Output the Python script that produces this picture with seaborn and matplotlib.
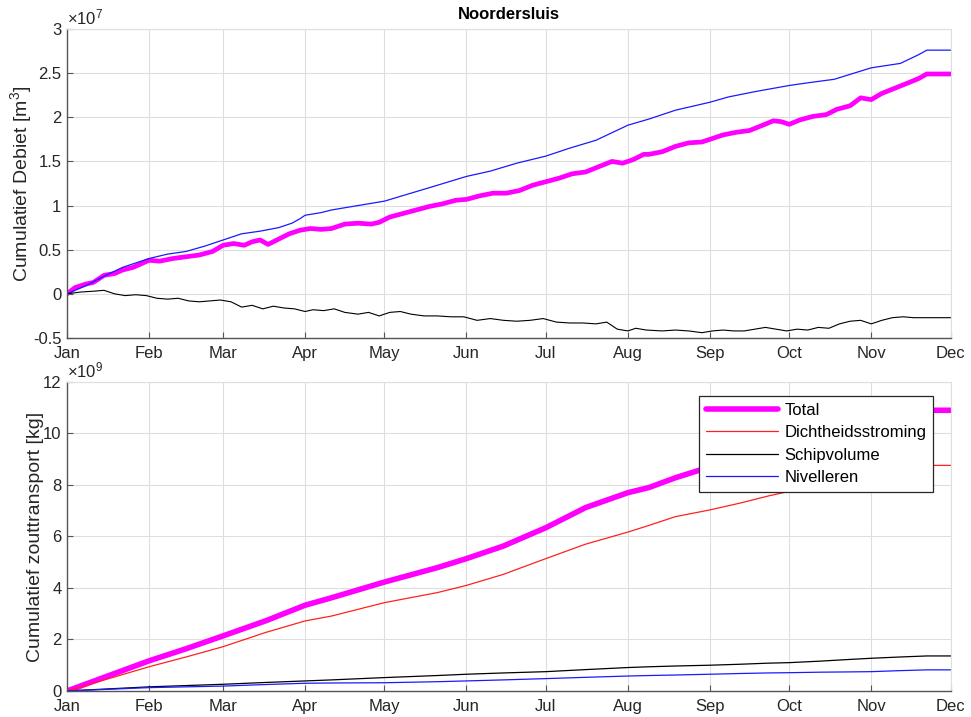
import numpy as np
import pandas as pd
import matplotlib
matplotlib.use("Agg")
import matplotlib.pyplot as plt
import seaborn as sns

# ---- cumulative discharge (units of 1e7 m3), day offsets from 1 Jan ----
deb_total_days = [0, 3, 7, 10, 14, 18, 21, 25, 28, 31, 35, 40, 45, 50, 55, 59, 63, 67, 70, 73,
                  76, 80, 84, 88, 92, 96, 100, 105, 110, 115, 118, 122, 127, 132, 137, 142, 147,
                  151, 156, 161, 166, 171, 176, 181, 186, 191, 196, 201, 206, 210, 214, 218, 220,
                  225, 230, 235, 240, 243, 248, 253, 258, 263, 267, 270, 273, 277, 282, 287, 291,
                  296, 300, 304, 308, 313, 318, 322, 325, 334]
deb_total = [0.00, 0.07, 0.11, 0.13, 0.21, 0.23, 0.27, 0.30, 0.34, 0.38, 0.37, 0.40, 0.42, 0.44,
             0.48, 0.55, 0.57, 0.55, 0.59, 0.61, 0.56, 0.62, 0.68, 0.72, 0.74, 0.73, 0.74, 0.79,
             0.80, 0.79, 0.81, 0.87, 0.91, 0.95, 0.99, 1.02, 1.06, 1.07, 1.11, 1.14, 1.14, 1.17,
             1.23, 1.27, 1.31, 1.36, 1.38, 1.44, 1.50, 1.48, 1.52, 1.58, 1.58, 1.61, 1.67, 1.71,
             1.72, 1.75, 1.80, 1.83, 1.85, 1.91, 1.96, 1.95, 1.92, 1.97, 2.01, 2.03, 2.09, 2.13,
             2.22, 2.20, 2.27, 2.33, 2.39, 2.44, 2.49, 2.49]

deb_niv_days = [0, 7, 14, 21, 28, 31, 38, 45, 52, 59, 66, 73, 80, 85, 88, 90, 96, 100, 110, 120,
                130, 140, 151, 160, 170, 181, 190, 200, 212, 220, 230, 243, 250, 260, 273, 280,
                290, 304, 315, 322, 325, 334]
deb_niv = [0.00, 0.09, 0.20, 0.30, 0.37, 0.40, 0.45, 0.48, 0.54, 0.61, 0.68, 0.71, 0.75, 0.80,
           0.85, 0.89, 0.92, 0.95, 1.00, 1.05, 1.14, 1.23, 1.33, 1.39, 1.48, 1.56, 1.65, 1.74,
           1.91, 1.98, 2.08, 2.17, 2.23, 2.29, 2.36, 2.39, 2.43, 2.56, 2.61, 2.71, 2.76, 2.76]

deb_schip_days = [0, 5, 10, 14, 18, 22, 26, 30, 34, 38, 42, 46, 50, 54, 58, 62, 66, 70, 74, 78,
                  82, 86, 90, 93, 97, 101, 105, 110, 114, 118, 122, 126, 130, 135, 140, 145, 150,
                  155, 160, 165, 170, 175, 180, 185, 190, 195, 200, 204, 208, 212, 215, 219, 225,
                  230, 235, 240, 244, 248, 252, 256, 260, 264, 268, 272, 276, 280, 284, 288, 292,
                  296, 300, 304, 308, 312, 316, 320, 325, 334]
deb_schip = [0.00, 0.02, 0.03, 0.04, 0.00, -0.02, -0.01, -0.02, -0.05, -0.06, -0.05, -0.08,
             -0.09, -0.08, -0.07, -0.09, -0.15, -0.13, -0.17, -0.14, -0.16, -0.17, -0.20, -0.18,
             -0.19, -0.17, -0.21, -0.23, -0.21, -0.25, -0.21, -0.20, -0.23, -0.25, -0.25, -0.26,
             -0.26, -0.30, -0.28, -0.30, -0.31, -0.30, -0.28, -0.32, -0.33, -0.33, -0.34, -0.32,
             -0.40, -0.42, -0.39, -0.41, -0.42, -0.41, -0.42, -0.44, -0.42, -0.41, -0.42, -0.42,
             -0.40, -0.38, -0.40, -0.42, -0.40, -0.41, -0.38, -0.39, -0.34, -0.31, -0.30, -0.34,
             -0.30, -0.27, -0.26, -0.27, -0.27, -0.27]

# ---- cumulative salt transport (units of 1e9 kg) ----
zout_days = [0, 31, 45, 59, 75, 90, 100, 120, 140, 151, 165, 181, 196, 212, 220, 230, 243, 255,
             265, 273, 285, 295, 304, 315, 325, 334]
zout_total = [0.00, 1.17, 1.64, 2.14, 2.72, 3.33, 3.62, 4.23, 4.79, 5.14, 5.63, 6.34, 7.12,
              7.70, 7.90, 8.28, 8.70, 9.12, 9.42, 9.56, 9.90, 10.15, 10.42, 10.70, 10.90, 10.90]
zout_dicht = [0.00, 0.94, 1.32, 1.72, 2.27, 2.72, 2.91, 3.43, 3.82, 4.10, 4.53, 5.14, 5.70,
              6.17, 6.43, 6.77, 7.03, 7.31, 7.57, 7.75, 8.00, 8.20, 8.40, 8.60, 8.76, 8.76]
zout_schip = [0.00, 0.16, 0.21, 0.26, 0.33, 0.39, 0.43, 0.52, 0.60, 0.65, 0.70, 0.75, 0.83,
              0.91, 0.94, 0.97, 1.00, 1.04, 1.08, 1.10, 1.16, 1.22, 1.27, 1.32, 1.36, 1.36]
zout_niv = [0.00, 0.13, 0.16, 0.19, 0.25, 0.30, 0.31, 0.32, 0.36, 0.39, 0.43, 0.48, 0.53,
            0.58, 0.60, 0.62, 0.65, 0.68, 0.70, 0.71, 0.73, 0.74, 0.75, 0.79, 0.82, 0.82]

month_labels = ["Jan", "Feb", "Mar", "Apr", "May", "Jun", "Jul", "Aug", "Sep", "Oct", "Nov", "Dec"]

start = pd.Timestamp("2019-01-01")


def as_dates(days):
    return start + pd.to_timedelta(days, unit="D")


sns.set_theme(style="whitegrid")
plt.rcParams["font.family"] = ["Liberation Sans", "DejaVu Sans"]
plt.rcParams["mathtext.fontset"] = "custom"
plt.rcParams["mathtext.rm"] = "Liberation Sans"
plt.rcParams["mathtext.it"] = "Liberation Sans:italic"

FS = 12
LABEL_FS = 14
DARK = "#262626"
AXIS = "#555555"
GRID = "#dedede"

fig = plt.figure(figsize=(9.71, 7.17), dpi=100)
ax1 = fig.add_axes([0.069, 0.5286, 0.910, 0.4310])
ax2 = fig.add_axes([0.069, 0.0363, 0.910, 0.4310])

MAG, RED, BLK, BLU = "#ff00ff", "#ff2020", "#000000", "#1a1aff"

# top panel: cumulative discharge
sns.lineplot(x=as_dates(deb_total_days), y=deb_total, ax=ax1, color=MAG, linewidth=3.4)
sns.lineplot(x=as_dates(deb_niv_days), y=deb_niv, ax=ax1, color=BLU, linewidth=0.9)
sns.lineplot(x=as_dates(deb_schip_days), y=deb_schip, ax=ax1, color=BLK, linewidth=0.8)

# bottom panel: cumulative salt transport
sns.lineplot(x=as_dates(zout_days), y=zout_total, ax=ax2, color=MAG, linewidth=4.0, label="Total")
sns.lineplot(x=as_dates(zout_days), y=zout_dicht, ax=ax2, color=RED, linewidth=0.9,
             label="Dichtheidsstroming")
sns.lineplot(x=as_dates(zout_days), y=zout_schip, ax=ax2, color=BLK, linewidth=0.9,
             label="Schipvolume")
sns.lineplot(x=as_dates(zout_days), y=zout_niv, ax=ax2, color=BLU, linewidth=0.9,
             label="Nivelleren")

month_ticks = pd.date_range("2019-01-01", "2019-12-01", freq="MS")
for ax in (ax1, ax2):
    ax.set_xlim(month_ticks[0], month_ticks[-1])
    ax.set_xticks(month_ticks)
    ax.set_xticklabels(month_labels)
    ax.set_xlabel("")
    ax.grid(True, color=GRID, linewidth=0.8)
    ax.set_facecolor("white")
    ax.tick_params(axis="both", direction="in", length=4, width=0.8, color=AXIS,
                   labelcolor=DARK, labelsize=FS, left=True, bottom=True)
    ax.tick_params(axis="x", pad=6)
    ax.tick_params(axis="y", pad=4)
    for side in ("left", "bottom"):
        ax.spines[side].set_color(AXIS)
        ax.spines[side].set_linewidth(1.0)
    for side in ("top", "right"):
        ax.spines[side].set_color(GRID)
        ax.spines[side].set_linewidth(0.8)

ax1.set_ylim(-0.5, 3)
ax1.set_yticks(np.arange(-0.5, 3.01, 0.5))
ax1.set_yticklabels(["-0.5", "0", "0.5", "1", "1.5", "2", "2.5", "3"])
ax1.set_ylabel("Cumulatief Debiet [m$^3$]", fontsize=LABEL_FS, color=DARK, labelpad=-1)
ax1.set_title("Noordersluis", fontsize=12, fontweight="bold", color="black", pad=7)
ax1.text(0.0, 1.004, "×10$^{7}$", transform=ax1.transAxes, ha="left", va="bottom",
         fontsize=FS, color=DARK)

ax2.set_ylim(0, 12)
ax2.set_yticks(np.arange(0, 12.1, 2))
ax2.set_yticklabels(["0", "2", "4", "6", "8", "10", "12"])
ax2.set_ylabel("Cumulatief zouttransport [kg]", fontsize=LABEL_FS, color=DARK, labelpad=-1)
ax2.text(0.0, 1.004, "×10$^{9}$", transform=ax2.transAxes, ha="left", va="bottom",
         fontsize=FS, color=DARK)

leg = ax2.legend(loc="upper right", bbox_to_anchor=(0.980, 0.955), fontsize=FS,
                 handlelength=4.3, handletextpad=0.4, labelspacing=0.45, borderpad=0.4,
                 borderaxespad=0.0, fancybox=False, frameon=True, framealpha=1.0)
leg.get_frame().set_edgecolor(DARK)
leg.get_frame().set_linewidth(0.9)
for t in leg.get_texts():
    t.set_color("black")

fig.savefig("out.png", dpi=100)
